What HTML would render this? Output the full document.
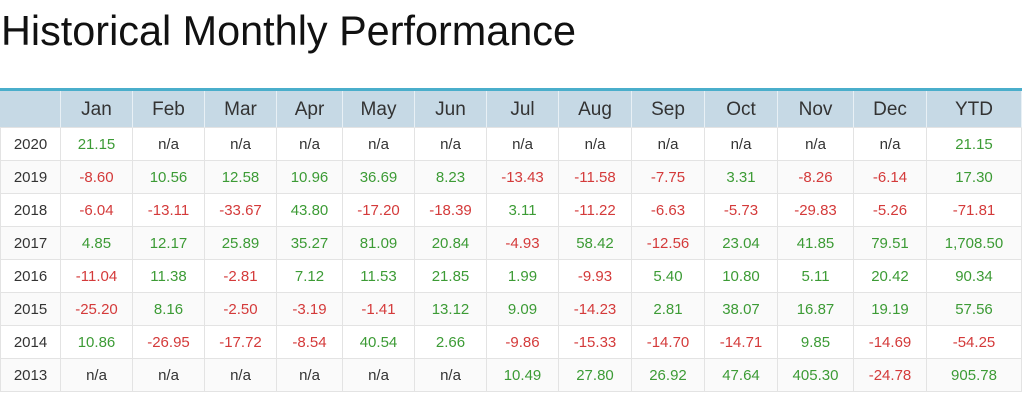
<!DOCTYPE html>
<html><head><meta charset="utf-8">
<style>
html,body{margin:0;padding:0;background:#fff;width:1024px;height:405px;overflow:hidden;font-family:"Liberation Sans",sans-serif;}
#title{position:absolute;left:0;top:0;}
#tbl{position:absolute;left:0;top:88px;width:1022px;}
.cell{position:absolute;box-sizing:border-box;text-align:center;font-size:15px;color:#333;border-right:1px solid #e3e3e3;border-bottom:1px solid #e3e3e3;}
.hd{background:#c6d9e5;font-size:19px;color:#333;border-right:1px solid #e8f0f5;}
.pos{color:#3c9b35}.neg{color:#d43a3a}
</style></head><body>
<svg id="title" width="600" height="60"><text x="1" y="45" font-family="Liberation Sans, sans-serif" font-size="42" fill="#111" textLength="575" lengthAdjust="spacingAndGlyphs">Historical Monthly Performance</text></svg>
<div id="tbl"></div>
<script>
const headers=["","Jan","Feb","Mar","Apr","May","Jun","Jul","Aug","Sep","Oct","Nov","Dec","YTD"];
const years=["2020","2019","2018","2017","2016","2015","2014","2013"];
const r2020=["21.15","n/a","n/a","n/a","n/a","n/a","n/a","n/a","n/a","n/a","n/a","n/a","21.15"];
const r2019=["-8.60","10.56","12.58","10.96","36.69","8.23","-13.43","-11.58","-7.75","3.31","-8.26","-6.14","17.30"];
const r2018=["-6.04","-13.11","-33.67","43.80","-17.20","-18.39","3.11","-11.22","-6.63","-5.73","-29.83","-5.26","-71.81"];
const r2017=["4.85","12.17","25.89","35.27","81.09","20.84","-4.93","58.42","-12.56","23.04","41.85","79.51","1,708.50"];
const r2016=["-11.04","11.38","-2.81","7.12","11.53","21.85","1.99","-9.93","5.40","10.80","5.11","20.42","90.34"];
const r2015=["-25.20","8.16","-2.50","-3.19","-1.41","13.12","9.09","-14.23","2.81","38.07","16.87","19.19","57.56"];
const r2014=["10.86","-26.95","-17.72","-8.54","40.54","2.66","-9.86","-15.33","-14.70","-14.71","9.85","-14.69","-54.25"];
const r2013=["n/a","n/a","n/a","n/a","n/a","n/a","10.49","27.80","26.92","47.64","405.30","-24.78","905.78"];
const rows=[r2020,r2019,r2018,r2017,r2016,r2015,r2014,r2013];
const colX=[0,61,133,205,277,343,415,487,559,632,705,778,854,927,1022];
const tbl=document.getElementById('tbl');
const top0=3, hdH=37, rowH=33;
const line=document.createElement('div');


line.style.cssText='position:absolute;left:0;top:0;width:1022px;height:3px;background:#4aaecb';
tbl.appendChild(line);
headers.forEach((h,i)=>{
  const c=document.createElement('div');
  
  
  c.className='cell hd';
  c.style.left=colX[i]+'px';c.style.top=top0+'px';c.style.width=(colX[i+1]-colX[i])+'px';c.style.height=hdH+'px';c.style.lineHeight=hdH+'px';
  c.textContent=h;tbl.appendChild(c);
});
years.forEach((y,r)=>{
  const vals=[y].concat(rows[r]);
  vals.forEach((v,i)=>{
    const c=document.createElement('div');
    
    
    let cls='cell';
    if(i>0&&v!=='n/a') cls+= v.startsWith('-')?' neg':' pos';
    c.className=cls;
    const t=top0+hdH+r*rowH;
    c.style.left=colX[i]+'px';c.style.top=t+'px';c.style.width=(colX[i+1]-colX[i])+'px';c.style.height=rowH+'px';c.style.lineHeight=rowH+'px';
    c.style.background=r%2? '#fafafa':'#fff';
    if(i==0)c.style.borderLeft='1px solid #e3e3e3';
    c.textContent=v;tbl.appendChild(c);
  });
});
</script>
</body></html>
